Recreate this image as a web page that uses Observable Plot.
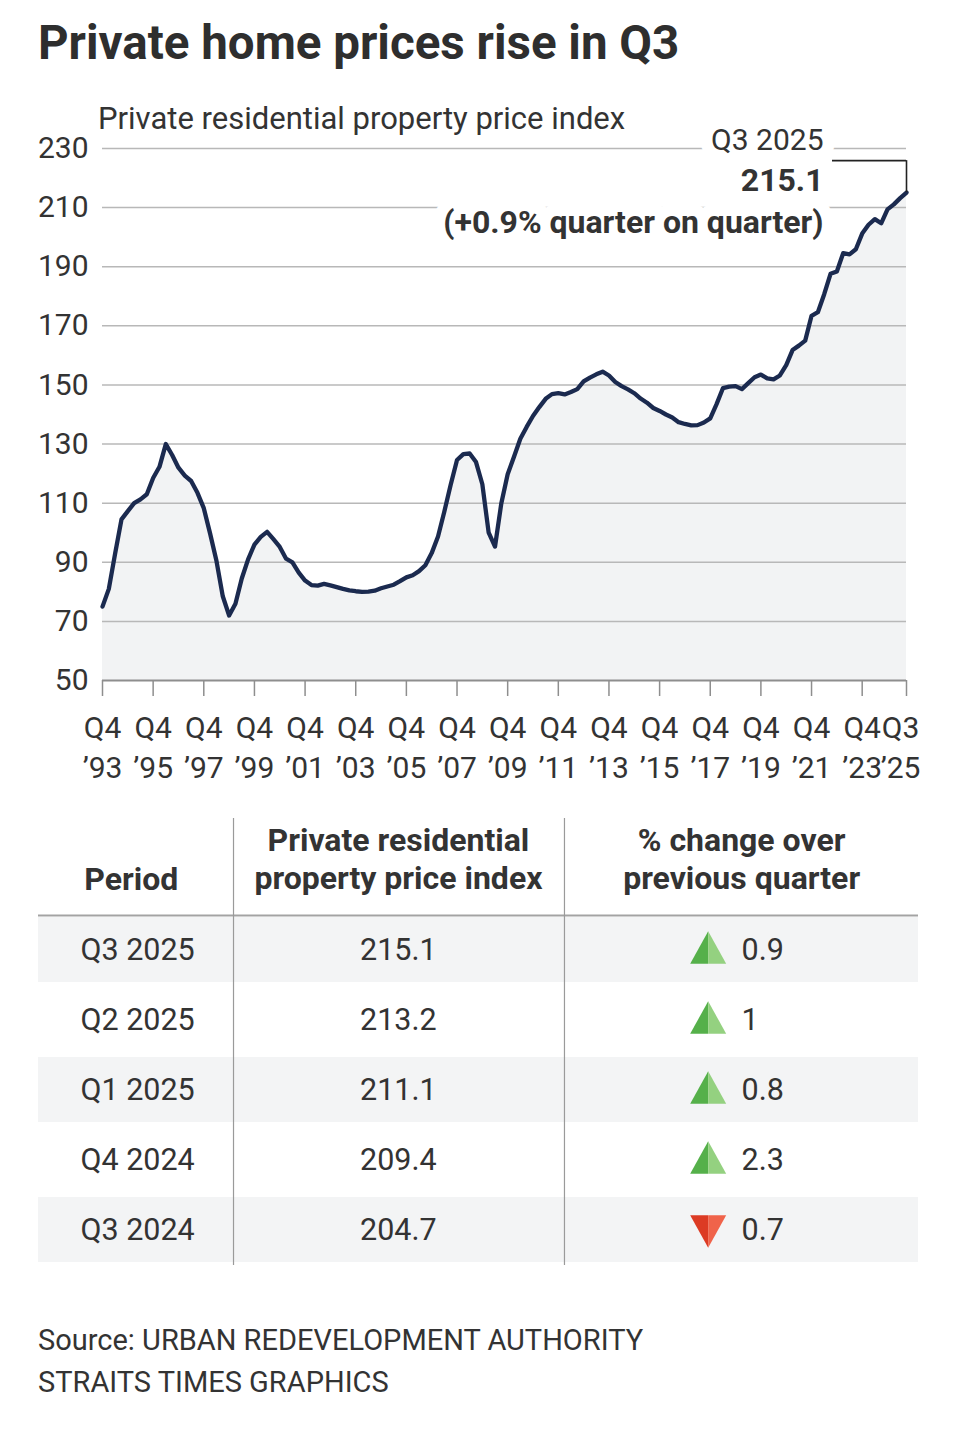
<!DOCTYPE html>
<html>
<head>
<meta charset="utf-8">
<script src="https://cdn.jsdelivr.net/npm/d3@7"></script>
<script src="https://cdn.jsdelivr.net/npm/@observablehq/plot@0.6"></script>
<style>
  body { margin: 0; background: #fff; }
  #page { position: relative; width: 960px; height: 1436px; overflow: hidden; background: #fff;
          font-family: 'Roboto', sans-serif; color: #333; }
  #title { position: absolute; left: 38px; top: 19.5px; font-size: 47.5px; line-height: 47.5px; font-weight: 700;
           white-space: nowrap; color: #2e2e2e; }
  #subtitle { position: absolute; left: 98px; top: 102.5px; font-size: 31px; line-height: 31px; white-space: nowrap; color: #333; }
  #chart { position: absolute; left: 0; top: 90px; }
  #table { position: absolute; left: 0; top: 800px; }
  #source { position: absolute; left: 38px; top: 1319px; font-size: 29px; line-height: 42px; white-space: nowrap; color: #333; }
  svg { overflow: visible; }
</style>
</head>
<body>
<div id="page">
  <div id="title">Private home prices rise in Q3</div>
  <div id="subtitle">Private residential property price index</div>
  <div id="chart"></div>
  <div id="table"></div>
  <div id="source">Source: URBAN REDEVELOPMENT AUTHORITY<br>STRAITS TIMES GRAPHICS</div>
</div>
<script>
// ---------- DATA ----------
// First period of the series
const firstYear = 1993;
const firstQuarter = 4;

// Quarterly private residential property price index, Q4 1993 .. Q3 2025
const priceIndex = [
  75.0, 81.0, 93.0, 104.5, 107.3, 110.0, 111.3, 113.0, 118.5, 122.3,
  130.0, 126.3, 122.0, 119.3, 117.5, 113.5, 108.3, 99.7, 90.5, 78.5,
  72.0, 76.0, 84.5, 91.0, 96.0, 98.6, 100.3, 97.8, 95.2, 91.2,
  90.0, 86.5, 83.8, 82.3, 82.1, 82.7, 82.2, 81.6, 81.0, 80.5,
  80.2, 80.0, 80.1, 80.4, 81.2, 81.8, 82.4, 83.6, 84.9, 85.6,
  87.0, 89.0, 93.1, 98.7, 107.2, 116.2, 124.6, 126.6, 126.8, 123.9,
  116.4, 100.0, 95.3, 110.0, 119.8, 125.7, 131.8, 135.8, 139.5, 142.5,
  145.3, 146.9, 147.2, 146.8, 147.6, 148.6, 151.2, 152.5, 153.6, 154.5,
  153.2, 151.0, 149.6, 148.5, 147.2, 145.4, 144.0, 142.2, 141.2, 140.0,
  139.0, 137.4, 136.8, 136.3, 136.4, 137.3, 138.7, 143.5, 148.9, 149.4,
  149.6, 148.6, 150.6, 152.6, 153.5, 152.2, 151.9, 153.2, 156.7, 161.8,
  163.3, 165.0, 173.4, 174.6, 180.7, 187.6, 188.4, 194.6, 194.2, 195.9,
  201.2, 204.2, 206.1, 204.7, 209.4, 211.1, 213.2, 215.1
];

// Axis ticks
const yTicks = [50, 70, 90, 110, 130, 150, 170, 190, 210, 230];
const xTickLabels = ["Q4 ’93", "Q4 ’95", "Q4 ’97", "Q4 ’99", "Q4 ’01", "Q4 ’03", "Q4 ’05", "Q4 ’07",
                     "Q4 ’09", "Q4 ’11", "Q4 ’13", "Q4 ’15", "Q4 ’17", "Q4 ’19", "Q4 ’21", "Q4 ’23", "Q3 ’25"];

// Table
const tablePeriods = ["Q3 2025", "Q2 2025", "Q1 2025", "Q4 2024", "Q3 2024"];
const tableIndex = [215.1, 213.2, 211.1, 209.4, 204.7];
const tableChange = [0.9, 1, 0.8, 2.3, -0.7];
const tableHeaders = ["Period", "Private residential\nproperty price index", "% change over\nprevious quarter"];

// ---------- LAYOUT / STYLE ----------
const FONT = "'Roboto', sans-serif";
const TEXT = "#333";
const NAVY = "#1b2a4f";

function periodIndex(label) {
  const q = +label[1];
  const yy = +label.slice(-2);
  const year = yy > 50 ? 1900 + yy : 2000 + yy;
  return (year - firstYear) * 4 + (q - firstQuarter);
}

const series = priceIndex.map((value, q) => ({q, value}));
const last = series[series.length - 1];
const xTicks = xTickLabels.map(periodIndex);
const labelAt = new Map(xTicks.map((t, k) => [t, xTickLabels[k].replace(" ", "\n")]));
const xTicksMain = xTicks.slice(0, -1);
const xTickEnd = xTicks.slice(-1);

const axisXText = {fill: TEXT, fontSize: 30, lineHeight: 1.333, label: null, tickFormat: d => labelAt.get(d)};

const chart = Plot.plot({
  width: 960,
  height: 700,
  marginTop: 58,
  marginBottom: 110,
  marginLeft: 102,
  marginRight: 54,
  style: {fontFamily: FONT, fontSize: "30px", color: TEXT, background: "transparent", overflow: "visible"},
  x: {domain: [0, priceIndex.length - 1]},
  y: {domain: [50, 230]},
  marks: [
    Plot.areaY(series, {x: "q", y1: 50, y2: "value", fill: "#f2f3f4"}),
    Plot.gridY(yTicks.filter(d => d > 50), {stroke: "#b8b8b8", strokeOpacity: 1, strokeWidth: 1.5}),
    Plot.ruleY([50], {stroke: "#8e8e8e", strokeWidth: 2}),
    Plot.axisY(yTicks, {tickSize: 0, tickPadding: 14, fontSize: 30, fill: TEXT, label: null}),
    // tick marks
    Plot.axisX(xTicks, {tickSize: 16, stroke: "#8e8e8e", strokeWidth: 1.5, fill: "none", tickFormat: () => "", label: null}),
    // tick labels
    Plot.axisX(xTicksMain, {...axisXText, tickSize: 0, tickPadding: 29}),
    Plot.axisX(xTickEnd, {...axisXText, tickSize: 0, tickPadding: 29, dx: -6}),
    Plot.lineY(series, {x: "q", y: "value", stroke: NAVY, strokeWidth: 4.3, strokeLinejoin: "round", strokeLinecap: "round"}),
    // annotation
    Plot.text([last], {x: "q", y: "value", text: () => tablePeriods[0], textAnchor: "end", dx: -83, dy: -52,
                       lineAnchor: "middle", fontSize: 30, fill: TEXT, stroke: "white", strokeWidth: 24, paintOrder: "stroke"}),
    Plot.text([last], {x: "q", y: "value", text: d => d3.format(".1f")(d.value), textAnchor: "end", dx: -83, dy: -12,
                       lineAnchor: "middle", fontSize: 32, fontWeight: 700, fill: TEXT, stroke: "white", strokeWidth: 24, paintOrder: "stroke"}),
    Plot.text([last], {x: "q", y: "value",
                       text: () => `(${tableChange[0] >= 0 ? "+" : "−"}${Math.abs(tableChange[0])}% quarter on quarter)`,
                       textAnchor: "end", dx: -83, dy: 30, lineAnchor: "middle", fontSize: 32, fontWeight: 700,
                       fill: TEXT, stroke: "white", strokeWidth: 24, paintOrder: "stroke"}),
    Plot.ruleX([last], {x: "q", y1: "value", y2: d => d.value + 10.8, stroke: "#222", strokeWidth: 1.6}),
    Plot.ruleY([last], {y: d => d.value + 10.8, x1: "q", x2: "q", insetLeft: -74, stroke: "#222", strokeWidth: 1.6})
  ]
});
document.getElementById("chart").append(chart);

// ---------- TABLE ----------
const rows = tablePeriods.map((period, row) => ({row, period, index: tableIndex[row], change: tableChange[row]}));
// column layout as percentages of table width
const col = {divider1: 22.16, divider2: 59.77, periodText: 4.77, indexRight: 45.25, tri: 76.1, changeText: 79.9,
             head: [5.2, 40.9, 79.9]};
const headerData = tableHeaders.map((label, k) => ({label, x: col.head[k], k}));

function halfTri(side, dir) {
  return {
    draw(ctx, size) {
      const r = Math.sqrt(size / Math.PI);
      const h = r * 0.9;
      const tip = -dir * h, base = dir * h;
      ctx.moveTo(0, tip);
      ctx.lineTo(side * r, base);
      ctx.lineTo(0, base);
      ctx.closePath();
    }
  };
}
const up = rows.filter(r => r.change >= 0);
const down = rows.filter(r => r.change < 0);

const table = Plot.plot({
  width: 960,
  height: 470,
  marginTop: 115,
  marginBottom: 5,
  marginLeft: 38,
  marginRight: 42,
  style: {fontFamily: FONT, fontSize: "30px", color: TEXT, background: "transparent", overflow: "visible"},
  x: {domain: [0, 100], axis: null},
  y: {domain: [0, rows.length], reverse: true, axis: null},
  marks: [
    Plot.rect(rows.filter(r => r.row % 2 === 0), {x1: 0, x2: 100, y1: "row", y2: r => r.row + 1, insetTop: 2, insetBottom: 3, fill: "#f3f4f5"}),
    Plot.ruleY([0], {stroke: "#a3a3a3", strokeWidth: 2}),
    Plot.ruleX([col.divider1, col.divider2], {stroke: "#9a9a9a", strokeWidth: 1.2, insetTop: -97}),
    Plot.text(headerData.filter(d => d.k === 0), {x: "x", text: "label", frameAnchor: "top", dy: -36, textAnchor: "start",
                                                   lineAnchor: "middle", fontSize: 32, fontWeight: 700, fill: TEXT}),
    Plot.text(headerData.filter(d => d.k > 0), {x: "x", text: "label", frameAnchor: "top", dy: -58, textAnchor: "middle",
                                                 lineAnchor: "middle", lineHeight: 1.19, fontSize: 32, fontWeight: 700, fill: TEXT}),
    Plot.text(rows, {x: col.periodText, y: r => r.row + 0.5, text: "period", textAnchor: "start", fill: TEXT, fontSize: 30.5}),
    Plot.text(rows, {x: col.indexRight, y: r => r.row + 0.5, text: r => d3.format(".1f")(r.index), textAnchor: "end", fill: TEXT, fontSize: 30.5}),
    Plot.dot(up, {x: col.tri, y: r => r.row + 0.5, r: 18, dy: -3, symbol: halfTri(-1, 1), fill: "#55b04a"}),
    Plot.dot(up, {x: col.tri, y: r => r.row + 0.5, r: 18, dy: -3, symbol: halfTri(1, 1), fill: "#94d180"}),
    Plot.dot(down, {x: col.tri, y: r => r.row + 0.5, r: 18, dy: 1, symbol: halfTri(-1, -1), fill: "#dc3b24"}),
    Plot.dot(down, {x: col.tri, y: r => r.row + 0.5, r: 18, dy: 1, symbol: halfTri(1, -1), fill: "#f0634a"}),
    Plot.text(rows, {x: col.changeText, y: r => r.row + 0.5, text: r => String(Math.abs(r.change)), textAnchor: "start", fill: TEXT, fontSize: 30.5})
  ]
});
document.getElementById("table").append(table);
</script>
</body>
</html>
